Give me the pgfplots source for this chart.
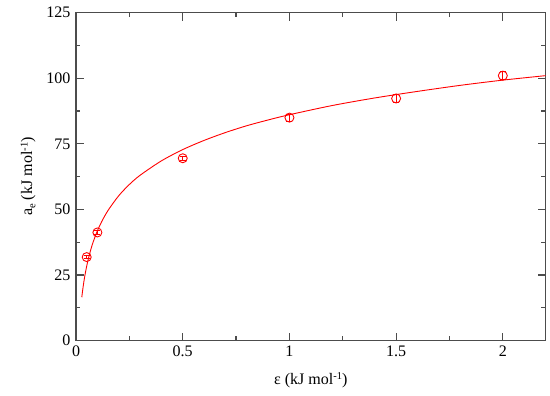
\documentclass[border=0pt]{standalone}
\usepackage{fontspec}
\setmainfont{Liberation Serif}
\usepackage{pgfplots}
\pgfplotsset{compat=1.18}
\begin{document}
\fontsize{10.7}{13}\selectfont
\begin{tikzpicture}
\begin{axis}[
  scale only axis, width=313pt, height=218.5pt,
  xmin=0, xmax=2.2, ymin=0, ymax=125,
  xtick={0,0.5,1,1.5,2}, ytick={0,25,50,75,100,125},
  minor x tick num=1, minor y tick num=1,
  tick align=inside, major tick length=5.3pt, minor tick length=2.7pt,
  axis line style={black!70, line width=1pt},
  every tick/.style={black!70, line width=0.8pt},
  /pgf/number format/assume math mode=true,
  xlabel={ε (kJ mol\raisebox{0.6ex}{\scriptsize -1})},
  ylabel={a\raisebox{-0.45ex}{\scriptsize e} (kJ mol\raisebox{0.6ex}{\scriptsize -1})},
  xlabel style={at={(axis description cs:0.5,0)}, anchor=center, yshift=-26.5pt},
  ylabel style={at={(axis description cs:0,0.5)}, anchor=center, rotate=0, yshift=32pt},
]
\addplot[red, line width=0.6pt, smooth] coordinates {
 (0.027,16.5) (0.03,18.5) (0.035,21.5) (0.04,24.1) (0.05,28.4) (0.06,31.9)
 (0.07,34.9) (0.08,37.5) (0.1,41.8) (0.12,45.3) (0.15,49.6) (0.2,55.2)
 (0.25,59.5) (0.3,63.0) (0.4,68.5) (0.5,72.8) (0.6,76.3) (0.7,79.3)
 (0.8,81.9) (0.9,84.1) (1.0,86.1) (1.2,89.6) (1.4,92.5) (1.6,95.0)
 (1.8,97.3) (2.0,99.3) (2.2,101.0)
};
\addplot[red, only marks, mark=o, mark size=3pt, mark options={line width=0.6pt},
  error bars/.cd, y dir=both, y explicit,
  error bar style={red, line width=0.5pt},
  error mark options={rotate=90, mark size=2pt, red, line width=0.5pt}]
 coordinates {
 (0.05,31.8) +- (0,0.6)
 (0.1,41.2) +- (0,0.6)
 (0.5,69.5) +- (0,0.8)
 (1.0,85.0) +- (0,1.4)
 (1.5,92.3) +- (0,1.4)
 (2.0,101.0) +- (0,1.6)
};
\end{axis}
\pgfresetboundingbox
\path ([shift={(-50.7pt,-37pt)}]current axis.south west) rectangle ([shift={(3pt,8.5pt)}]current axis.north east);
\end{tikzpicture}
\end{document}
